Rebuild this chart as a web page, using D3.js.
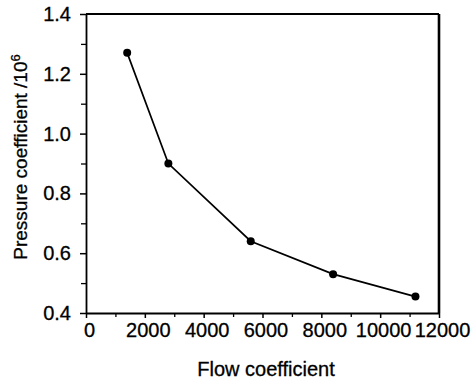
<!DOCTYPE html>
<html>
<head>
<meta charset="utf-8">
<script src="https://cdn.jsdelivr.net/npm/d3@7"></script>
<style>
  body { margin: 0; background: #fff; }
  svg { display: block; font-family: "Liberation Sans", Arial, sans-serif; }
</style>
</head>
<body>
<div id="chart"></div>
<script>
// values
const flowCoefficient = [1400, 2800, 5600, 8400, 11200];
const pressureCoefficient = [1.27, 0.90, 0.64, 0.53, 0.455];
const xTicks = [0, 2000, 4000, 6000, 8000, 10000, 12000];
const yTicks = [0.4, 0.6, 0.8, 1.0, 1.2, 1.4];

const width = 475, height = 381;
const margin = {left: 86, right: 36, top: 14, bottom: 68};

const svg = d3.select("#chart").append("svg")
  .attr("width", width)
  .attr("height", height);

const x = d3.scaleLinear().domain([0, 12000]).range([margin.left, width - margin.right]);
const y = d3.scaleLinear().domain([0.4, 1.4]).range([height - margin.bottom, margin.top]);

// minor ticks
svg.append("g")
  .attr("transform", `translate(0,${y(0.4)})`)
  .call(d3.axisBottom(x).tickValues(d3.range(1000, 12000, 2000)).tickSize(4).tickFormat(""))
  .call(g => g.select(".domain").remove())
  .selectAll("line").attr("stroke-width", 1.3);

svg.append("g")
  .attr("transform", `translate(${x(0)},0)`)
  .call(d3.axisLeft(y).tickValues([0.5, 0.7, 0.9, 1.1, 1.3]).tickSize(5).tickFormat(""))
  .call(g => g.select(".domain").remove())
  .selectAll("line").attr("stroke-width", 1.3);

// major axes
const xAxis = svg.append("g")
  .attr("transform", `translate(0,${y(0.4)})`)
  .call(d3.axisBottom(x).tickValues(xTicks).tickSize(5).tickPadding(5).tickSizeOuter(0).tickFormat(d3.format("d")));

const yAxis = svg.append("g")
  .attr("transform", `translate(${x(0)},0)`)
  .call(d3.axisLeft(y).tickValues(yTicks).tickSize(6).tickPadding(9).tickSizeOuter(0).tickFormat(d3.format(".1f")));

[xAxis, yAxis].forEach(g => {
  g.select(".domain").attr("stroke", "#000").attr("stroke-width", 1.8);
  g.selectAll(".tick line").attr("stroke", "#000").attr("stroke-width", 1.5);
  g.selectAll("text")
    .attr("fill", "#000")
    .attr("font-size", 20)
    .attr("font-family", "Liberation Sans, Arial, sans-serif")
    .attr("stroke", "#000")
    .attr("stroke-width", 0.3);
});
xAxis.selectAll("text").attr("dx", 3);

// top and right frame
svg.append("line")
  .attr("x1", x(0)).attr("x2", x(12000))
  .attr("y1", y(1.4)).attr("y2", y(1.4))
  .attr("stroke", "#000").attr("stroke-width", 1.8);
svg.append("line")
  .attr("x1", x(12000)).attr("x2", x(12000))
  .attr("y1", y(1.4)).attr("y2", y(0.4))
  .attr("stroke", "#000").attr("stroke-width", 2.6);

// data line and markers
const points = flowCoefficient.map((f, i) => [f, pressureCoefficient[i]]);

svg.append("path")
  .datum(points)
  .attr("fill", "none")
  .attr("stroke", "#000")
  .attr("stroke-width", 1.7)
  .attr("d", d3.line().x(d => x(d[0])).y(d => y(d[1])));

svg.selectAll("circle.pt")
  .data(points)
  .enter().append("circle")
  .attr("class", "pt")
  .attr("cx", d => x(d[0]))
  .attr("cy", d => y(d[1]))
  .attr("r", 4)
  .attr("fill", "#000");

// axis titles
svg.append("text")
  .attr("x", 266)
  .attr("y", 376)
  .attr("text-anchor", "middle")
  .attr("font-size", 20)
  .attr("stroke", "#000").attr("stroke-width", 0.3)
  .text("Flow coefficient");

const yTitle = svg.append("text")
  .attr("transform", `translate(27,157) rotate(-90)`)
  .attr("text-anchor", "middle")
  .attr("font-size", 19)
  .attr("stroke", "#000").attr("stroke-width", 0.3);
yTitle.append("tspan").text("Pressure coefficient /10");
yTitle.append("tspan").attr("font-size", 13).attr("dy", -7).text("6");
</script>
</body>
</html>
